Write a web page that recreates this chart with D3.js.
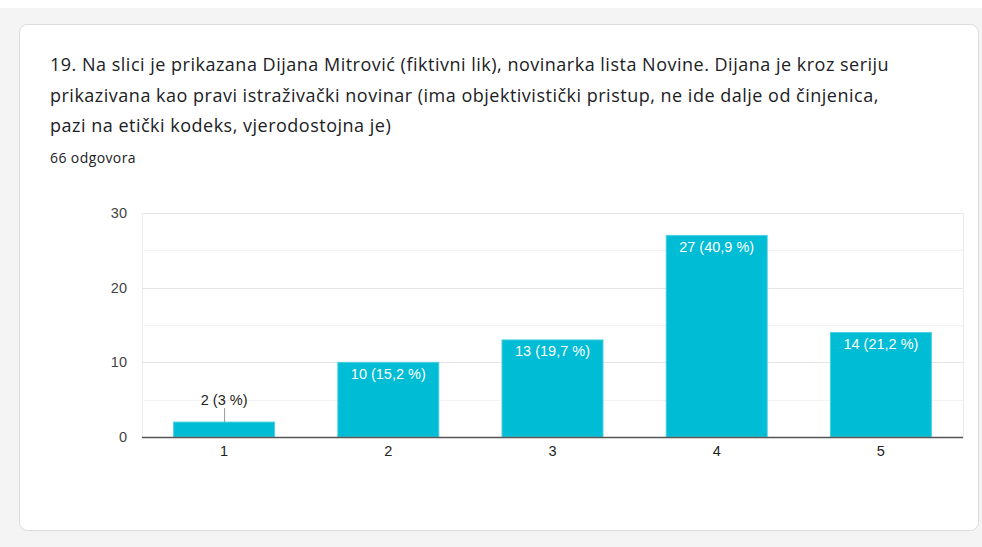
<!DOCTYPE html>
<html><head><meta charset="utf-8">
<script src="https://cdn.jsdelivr.net/npm/d3@7"></script>
<style>
html,body{margin:0;padding:0;background:#fff;}
svg{display:block;font-family:Roboto,Arial,sans-serif;}
</style></head><body>
<svg id="c" width="982" height="547"></svg>
<script>
const titleLines = [
  "19. Na slici je prikazana Dijana Mitrović (fiktivni lik), novinarka lista Novine. Dijana je kroz seriju",
  "prikazivana kao pravi istraživački novinar (ima objektivistički pristup, ne ide dalje od činjenica,",
  "pazi na etički kodeks, vjerodostojna je)"
];
const subtitle = "66 odgovora";
const categories = ["1","2","3","4","5"];
const counts = [2,10,13,27,14];
const labels = ["2 (3 %)","10 (15,2 %)","13 (19,7 %)","27 (40,9 %)","14 (21,2 %)"];
const yTicks = [0,10,20,30];
const yMinor = [5,15,25];

const chartFont = "Arial, 'Liberation Sans', sans-serif";
const svg = d3.select("#c");
svg.append("rect").attr("x",0).attr("y",8).attr("width",982).attr("height",539).attr("fill","#f4f4f4");
svg.append("rect").attr("x",19.5).attr("y",24.5).attr("width",959).attr("height",506).attr("rx",8)
  .attr("fill","#fff").attr("stroke","#dadce0");

svg.selectAll("text.title").data(titleLines).join("text")
  .attr("x",50).attr("y",(d,i)=>71+i*30.5)
  .attr("font-size",18).attr("letter-spacing",0.5).attr("font-family","'Open Sans', sans-serif").attr("fill","#202124").text(d=>d);
svg.append("text").attr("x",50).attr("y",163).attr("font-size",14).attr("letter-spacing",0.4)
  .attr("font-family","'Open Sans', sans-serif").attr("fill","#202124").text(subtitle);

const m = {l:142,r:963,t:213,b:437};
const x = d3.scaleBand().domain(categories).range([m.l,m.r]).paddingInner(0.385).paddingOuter(0.1925);
const y = d3.scaleLinear().domain([0,30]).range([m.b,m.t]);

svg.append("rect").attr("x",m.l+0.5).attr("y",m.t+0.5).attr("width",m.r-m.l).attr("height",m.b-m.t)
  .attr("fill","none").attr("stroke","#ebebeb");
svg.selectAll("line.minor").data(yMinor).join("line")
  .attr("x1",m.l).attr("x2",m.r).attr("y1",d=>Math.round(y(d))+0.5).attr("y2",d=>Math.round(y(d))+0.5)
  .attr("stroke","#f3f3f3");
svg.selectAll("line.major").data(yTicks).join("line")
  .attr("x1",m.l).attr("x2",m.r).attr("y1",d=>Math.round(y(d))+0.5).attr("y2",d=>Math.round(y(d))+0.5)
  .attr("stroke","#e6e6e6");

const yAxis = svg.append("g").attr("transform",`translate(${m.l-15},0)`)
  .call(d3.axisLeft(y).tickValues(yTicks).tickSize(0).tickPadding(0));
yAxis.select(".domain").remove();
yAxis.selectAll("text").attr("font-size",14.5).attr("fill","#444").attr("font-family",chartFont);

svg.selectAll("rect.bar").data(counts).join("rect")
  .attr("x",(d,i)=>x(categories[i])).attr("width",x.bandwidth())
  .attr("y",d=>y(d)).attr("height",d=>y(0)-y(d))
  .attr("fill","#00bcd4").attr("stroke","#4dd0e1").attr("stroke-width",1);

svg.append("line").attr("x1",m.l).attr("x2",m.r).attr("y1",m.b+0.5).attr("y2",m.b+0.5)
  .attr("stroke","#555").attr("stroke-width",1.5);

const xAxis = svg.append("g").attr("transform",`translate(0,${m.b+9})`)
  .call(d3.axisBottom(x).tickSize(0).tickPadding(0));
xAxis.select(".domain").remove();
xAxis.selectAll("text").attr("font-size",14.5).attr("fill","#222").attr("font-family",chartFont);

counts.forEach((d,i)=>{
  const cx = x(categories[i])+x.bandwidth()/2;
  const h = y(0)-y(d);
  if (h > 25) {
    svg.append("text").attr("x",cx).attr("y",y(d)+16.5).attr("text-anchor","middle")
      .attr("font-size",14.5).attr("fill","#fff").attr("font-family",chartFont).text(labels[i]);
  } else {
    svg.append("line").attr("x1",cx+0.5).attr("x2",cx+0.5).attr("y1",y(d)).attr("y2",y(d)-14)
      .attr("stroke","#999");
    svg.append("text").attr("x",cx).attr("y",y(d)-17).attr("text-anchor","middle")
      .attr("font-size",14.5).attr("fill","#222").attr("font-family",chartFont).text(labels[i]);
  }
});
</script></body></html>
